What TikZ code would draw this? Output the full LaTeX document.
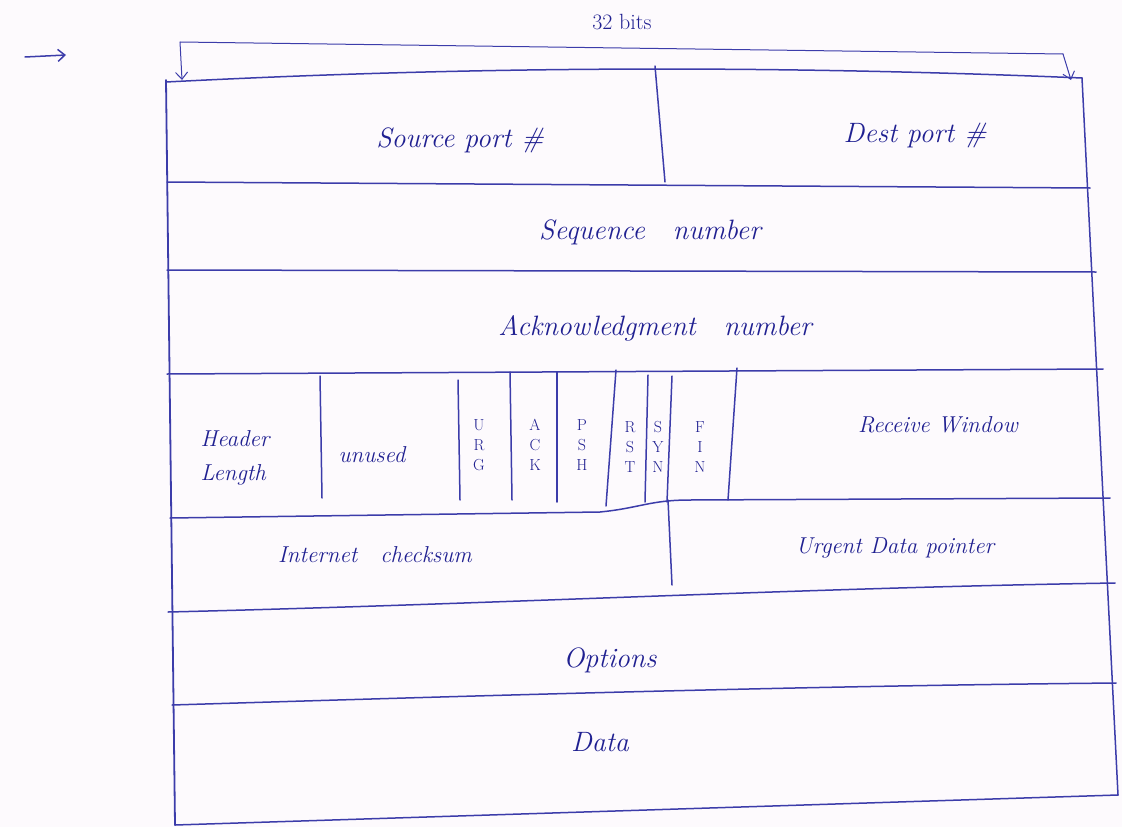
\documentclass[tikz,border=0pt]{standalone}
\usetikzlibrary{arrows.meta}
\definecolor{ink}{RGB}{32,32,145}
\definecolor{pen}{RGB}{60,60,170}
\definecolor{paper}{RGB}{253,250,253}
\begin{document}
\begin{tikzpicture}[x=1pt,y=-1pt,
  rule/.style={draw=pen, line width=1.5pt, line cap=round, line join=round},
  lbl/.style={text=ink, font=\fontsize{28}{30}\selectfont\itshape, inner sep=0pt},
  small/.style={text=ink, font=\fontsize{23}{34}\selectfont\itshape, inner sep=0pt, align=left},
  flagtxt/.style={text=ink, font=\fontsize{16}{20}\selectfont, align=center, inner sep=0pt},
  dim/.style={draw=pen, line width=1pt, line cap=round, -{Straight Barb[length=7pt,width=12pt]}}]
\fill[paper] (0,0) rectangle (1122,827);
\useasboundingbox (0,0) rectangle (1122,827);

% dimension marker above the header
\coordinate (dimL) at (180,42);
\coordinate (dimR) at (1063,54);
\coordinate (cornerL) at (182,80);
\coordinate (cornerR) at (1071,80);
\draw[rule, line width=1pt] (dimL) -- (dimR);
\draw[dim] (dimL) -- (cornerL);
\draw[dim] (dimR) -- (cornerR);
\node[text=ink, font=\fontsize{22}{24}\selectfont, inner sep=0pt] (bits) at (622,22) {32 bits};

% pointer arrow at the left margin
\coordinate (ptrA) at (25,57);
\coordinate (ptrB) at (66,55);
\draw[dim, line width=1.5pt] (ptrA) -- (ptrB);

% outer frame
\draw[rule] (166,82) .. controls (400,70) and (700,62) .. (1082,78);
\draw[rule, line width=1.8pt] (166,80) -- (175,825);
\draw[rule] (1082,78) -- (1118,795);
\draw[rule] (175,825) -- (1118,795);

% row separators
\draw[rule] (167,182) -- (1090,188);
\draw[rule] (167,270) -- (1096,272);
\draw[rule] (167,374) -- (1103,369);
\draw[rule] (170,518) -- (600,512) .. controls (640,508) and (650,500) .. (690,500) -- (1110,498);
\draw[rule] (168,612) .. controls (500,604) and (800,588) .. (1115,583);
\draw[rule] (172,705) .. controls (500,695) and (800,686) .. (1116,683);

% column separators
\draw[rule] (655,66) -- (665,182);
\draw[rule] (668,500) -- (672,585);
\draw[rule] (320,376) -- (322,498);
\draw[rule] (458,380) -- (460,500);
\draw[rule] (510,372) -- (512,500);
\draw[rule] (557,372) -- (557,502);
\draw[rule] (616,370) -- (606,506);
\draw[rule] (648,375) -- (645,502);
\draw[rule] (672,376) -- (667,502);
\draw[rule] (737,368) -- (728,500);

% field labels
\node[lbl] (src) at (460,140) {Source port \#};
\node[lbl] (dst) at (915,135) {Dest port \#};
\node[lbl] (seq) at (650,232) {Sequence\quad number};
\node[lbl] (ack) at (655,328) {Acknowledgment\quad number};
\node[small] (hlen) at (235,458) {Header\\Length};
\node[small] (unused) at (372,455) {unused};
\node[flagtxt] (urg) at (479,445) {U\\R\\G};
\node[flagtxt] (fack) at (535,445) {A\\C\\K};
\node[flagtxt] (psh) at (582,445) {P\\S\\H};
\node[flagtxt] (rst) at (630,447) {R\\S\\T};
\node[flagtxt] (syn) at (658,447) {S\\Y\\N};
\node[flagtxt] (fin) at (700,447) {F\\I\\N};
\node[small] (rwnd) at (938,425) {Receive Window};
\node[small] (csum) at (375,555) {Internet\quad checksum};
\node[small] (urgp) at (895,548) {Urgent Data pointer};
\node[lbl] (opt) at (610,660) {Options};
\node[lbl] (data) at (600,742) {Data};
\end{tikzpicture}
\end{document}
